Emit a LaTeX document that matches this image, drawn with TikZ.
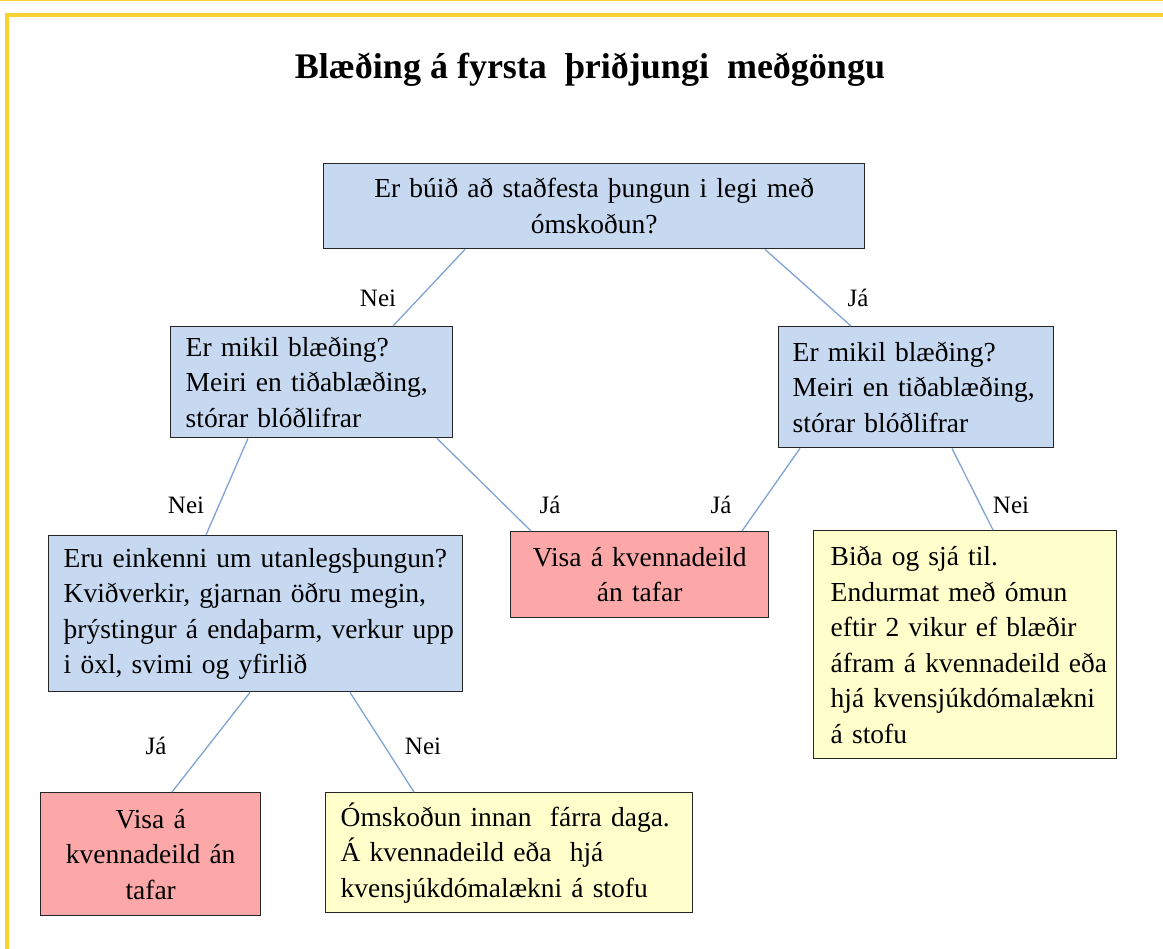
\documentclass[tikz,border=0pt]{standalone}
\usepackage{fontspec}
\setmainfont{Liberation Serif}
\definecolor{frameY}{HTML}{F8D231}
\definecolor{boxB}{HTML}{C6D9F1}
\definecolor{boxR}{HTML}{FCA8A8}
\definecolor{boxY}{HTML}{FFFFCC}
\definecolor{lineB}{HTML}{7FA3D3}
\definecolor{edgeC}{HTML}{262626}
\newcommand{\oneline}[1]{\mbox{#1}}
\begin{document}
\begin{tikzpicture}[x=1pt,y=-1pt,
  box/.style={draw=edgeC, line width=1.4pt, anchor=north west, inner ysep=0pt,
    font=\fontsize{27.5}{35.5}\selectfont},
  bluebox/.style={box, fill=boxB},
  redbox/.style={box, fill=boxR},
  yelbox/.style={box, fill=boxY},
  conn/.style={draw=lineB, line width=1.3pt},
  lbl/.style={font=\fontsize{25}{28}\selectfont, inner sep=0pt}]
\useasboundingbox (0,0) rectangle (1163,949);
% frame
\fill[frameY] (0,0) rectangle (1163,1.5);
\fill[frameY] (5,13) rectangle (1163,17);
\fill[frameY] (5,13) rectangle (9,949);
% title
\node[font=\fontsize{36}{40}\selectfont\bfseries] (title) at (590,70) {Blæðing á fyrsta\ \ þriðjungi\ \ meðgöngu};
% boxes
\node[bluebox, minimum width=541pt, minimum height=85pt, text width=521pt, inner xsep=10pt, align=center] (q1) at (323,163)
  {Er búið að staðfesta þungun i legi með\\ómskoðun?};
\node[bluebox, minimum width=282pt, minimum height=111pt, text width=252pt, inner xsep=15pt, align=left] (q2) at (170,326)
  {\oneline{Er mikil blæðing?}\\\oneline{Meiri en tiðablæðing,}\\\oneline{stórar blóðlifrar}};
\node[bluebox, minimum width=275pt, minimum height=121pt, text width=247pt, inner xsep=14pt, align=left] (q3) at (778,326)
  {\oneline{Er mikil blæðing?}\\\oneline{Meiri en tiðablæðing,}\\\oneline{stórar blóðlifrar}};
\node[bluebox, minimum width=414pt, minimum height=156pt, text width=384pt, inner xsep=15pt, align=left] (q4) at (48,535)
  {\oneline{Eru einkenni um utanlegsþungun?}\\\oneline{Kviðverkir, gjarnan öðru megin,}\\\oneline{þrýstingur á endaþarm, verkur upp}\\\oneline{i öxl, svimi og yfirlið}};
\node[redbox, minimum width=258pt, minimum height=86pt, text width=238pt, inner xsep=10pt, align=center] (r1) at (510,531)
  {Visa á kvennadeild\\án tafar};
\node[yelbox, minimum width=303pt, minimum height=228pt, text width=269pt, inner xsep=17pt, align=left] (y1) at (813,530)
  {\oneline{Biða og sjá til.}\\\oneline{Endurmat með ómun}\\\oneline{eftir 2 vikur ef blæðir}\\\oneline{áfram á kvennadeild eða}\\\oneline{hjá kvensjúkdómalækni}\\\oneline{á stofu}};
\node[redbox, minimum width=220pt, minimum height=123pt, text width=200pt, inner xsep=10pt, align=center] (r2) at (40,792)
  {Visa á\\kvennadeild án\\tafar};
\node[yelbox, minimum width=367pt, minimum height=120pt, text width=337pt, inner xsep=15pt, align=left] (y2) at (325,792)
  {\oneline{Ómskoðun innan\ \ fárra daga.}\\\oneline{Á kvennadeild eða\ \ hjá}\\\oneline{kvensjúkdómalækni á stofu}};
% connectors
\draw[conn] ([xshift=142pt]q1.south west) -- ([xshift=223pt]q2.north west);
\draw[conn] ([xshift=442pt]q1.south west) -- ([xshift=73pt]q3.north west);
\draw[conn] ([xshift=78pt]q2.south west) -- ([xshift=158pt]q4.north west);
\draw[conn] ([xshift=267pt]q2.south west) -- ([xshift=21pt]r1.north west);
\draw[conn] ([xshift=22pt]q3.south west) -- ([xshift=232pt]r1.north west);
\draw[conn] ([xshift=174pt]q3.south west) -- ([xshift=180pt]y1.north west);
\draw[conn] ([xshift=202pt]q4.south west) -- ([xshift=132pt]r2.north west);
\draw[conn] ([xshift=302pt]q4.south west) -- ([xshift=89pt]y2.north west);
% labels
\node[lbl] (l1) at (378,298) {Nei};
\node[lbl] (l2) at (858,298) {Já};
\node[lbl] (l3) at (186,505) {Nei};
\node[lbl] (l4) at (550,505) {Já};
\node[lbl] (l5) at (721,505) {Já};
\node[lbl] (l6) at (1011,505) {Nei};
\node[lbl] (l7) at (156,746) {Já};
\node[lbl] (l8) at (423,746) {Nei};
\end{tikzpicture}
\end{document}
